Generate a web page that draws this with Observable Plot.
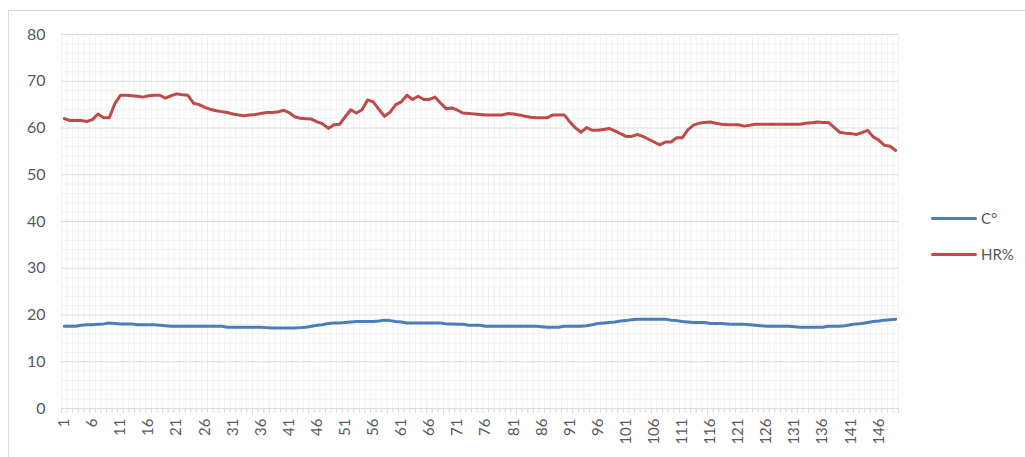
<!DOCTYPE html>
<html>
<head>
<meta charset="utf-8">
<script src="https://cdn.jsdelivr.net/npm/d3@7"></script>
<script src="https://cdn.jsdelivr.net/npm/@observablehq/plot@0.6"></script>
<style>
  html, body { margin: 0; padding: 0; background: #fff; }
  #wrap { position: relative; width: 1025px; height: 457px; overflow: hidden; font-family: Lato, "Open Sans", sans-serif; }
  #frame { position: absolute; left: 8px; top: 10px; width: 1030px; height: 470px; border: 1px solid #d9d9d9; box-sizing: border-box; }
  #chart { position: absolute; left: 0; top: 0; }
  .leg { position: absolute; left: 931px; display: flex; align-items: center; font-size: 15px; color: #595959; }
  .leg span.sw { display: inline-block; width: 46px; height: 3px; border-radius: 2px; margin-right: 4px; }
</style>
</head>
<body>
<div id="wrap">
  <div id="frame"></div>
  <div id="chart"></div>
</div>
<script>
// Temperature (°C), samples 1..149
const tempC = [
  17.6, 17.6, 17.6, 17.8, 17.9, 17.9, 18.0, 18.1, 18.3, 18.2,
  18.1, 18.1, 18.1, 17.9, 17.9, 17.9, 17.9, 17.8, 17.7, 17.6,
  17.6, 17.6, 17.6, 17.6, 17.6, 17.6, 17.6, 17.6, 17.6, 17.4,
  17.4, 17.4, 17.4, 17.4, 17.4, 17.4, 17.3, 17.2, 17.2, 17.2,
  17.2, 17.2, 17.3, 17.4, 17.6, 17.8, 17.9, 18.2, 18.3, 18.3,
  18.4, 18.5, 18.6, 18.6, 18.6, 18.6, 18.7, 18.9, 18.8, 18.6,
  18.5, 18.3, 18.3, 18.3, 18.3, 18.3, 18.3, 18.3, 18.1, 18.1,
  18.0, 18.0, 17.8, 17.8, 17.8, 17.6, 17.6, 17.6, 17.6, 17.6,
  17.6, 17.6, 17.6, 17.6, 17.6, 17.5, 17.4, 17.4, 17.4, 17.6,
  17.6, 17.6, 17.6, 17.7, 17.9, 18.2, 18.3, 18.4, 18.5, 18.7,
  18.8, 19.0, 19.1, 19.1, 19.1, 19.1, 19.1, 19.1, 18.9, 18.8,
  18.6, 18.5, 18.4, 18.4, 18.4, 18.2, 18.2, 18.2, 18.1, 18.0,
  18.0, 18.0, 17.9, 17.8, 17.7, 17.6, 17.6, 17.6, 17.6, 17.6,
  17.5, 17.4, 17.4, 17.4, 17.4, 17.4, 17.6, 17.6, 17.6, 17.7,
  17.9, 18.1, 18.2, 18.4, 18.6, 18.7, 18.9, 19.0, 19.1
];
// Relative humidity (%), samples 1..149
const humidity = [
  62.0, 61.6, 61.6, 61.6, 61.4, 61.8, 63.0, 62.2, 62.2, 65.2,
  67.0, 67.0, 66.9, 66.8, 66.6, 66.9, 67.0, 67.0, 66.4, 66.9,
  67.3, 67.1, 67.0, 65.3, 65.0, 64.4, 64.0, 63.7, 63.5, 63.3,
  63.0, 62.8, 62.6, 62.8, 62.9, 63.1, 63.3, 63.3, 63.4, 63.8,
  63.3, 62.4, 62.1, 62.0, 61.9, 61.3, 60.9, 59.9, 60.7, 60.8,
  62.4, 63.9, 63.2, 63.9, 66.0, 65.6, 64.0, 62.5, 63.4, 65.0,
  65.6, 67.0, 66.1, 66.8, 66.1, 66.1, 66.6, 65.3, 64.1, 64.3,
  63.8, 63.2, 63.1, 63.0, 62.9, 62.8, 62.8, 62.8, 62.8, 63.1,
  63.0, 62.8, 62.5, 62.3, 62.2, 62.2, 62.2, 62.8, 62.8, 62.8,
  61.3, 60.0, 59.1, 60.1, 59.5, 59.5, 59.7, 59.9, 59.4, 58.8,
  58.2, 58.2, 58.6, 58.2, 57.6, 57.0, 56.4, 57.0, 57.0, 57.9,
  57.9, 59.6, 60.6, 61.0, 61.2, 61.3, 61.0, 60.8, 60.7, 60.7,
  60.7, 60.4, 60.6, 60.8, 60.8, 60.8, 60.8, 60.8, 60.8, 60.8,
  60.8, 60.8, 61.0, 61.1, 61.3, 61.2, 61.2, 60.2, 59.1, 58.9,
  58.8, 58.6, 59.0, 59.5, 58.1, 57.4, 56.3, 56.1, 55.2
];
const seriesNames = ["C°", "HR%"];
const seriesColors = ["#4a7ebb", "#be4b48"];
const xTickLabels = d3.range(1, 150, 5);
const yTicks = d3.range(0, 81, 10);

const n = tempC.length;
const rows = [
  ...tempC.map((v, i) => ({x: i + 1, y: v, s: seriesNames[0]})),
  ...humidity.map((v, i) => ({x: i + 1, y: v, s: seriesNames[1]}))
];
const boundaries = d3.range(0.5, n + 1, 1);
const minorY = d3.range(0, 81, 2).filter(v => v % 10 !== 0);

const chart = Plot.plot({
  width: 1025,
  height: 457,
  marginLeft: 61,
  marginRight: 127,
  marginTop: 34,
  marginBottom: 49,
  style: {fontFamily: "Lato, 'Open Sans', sans-serif", background: "transparent"},
  x: {domain: [0.5, n + 0.5], label: null},
  y: {domain: [0, 80], label: null},
  color: {domain: seriesNames, range: seriesColors},
  marks: [
    Plot.ruleX(boundaries, {y1: 0, y2: 80, stroke: "#f1f1f1", strokeWidth: 1}),
    Plot.ruleY(minorY, {stroke: "#f1f1f1", strokeWidth: 1}),
    Plot.ruleY(yTicks, {stroke: "#dcdcdc", strokeWidth: 1}),
    Plot.axisX({ticks: boundaries, tickSize: 5, tickFormat: () => "", stroke: "#d9d9d9", label: null}),
    Plot.axisX({ticks: xTickLabels, tickSize: 0, tickRotate: -90, tickPadding: 10, fontSize: 15, fill: "#595959", label: null}),
    Plot.axisY({ticks: yTicks, tickSize: 0, tickPadding: 16, fontSize: 16, fill: "#595959", label: null}),
    Plot.line(rows, {x: "x", y: "y", z: "s", stroke: "s", strokeWidth: 3, strokeLinejoin: "round", strokeLinecap: "round"})
  ]
});
document.getElementById("chart").appendChild(chart);

const wrap = document.getElementById("wrap");
const legendY = [218, 254];
seriesNames.forEach((name, i) => {
  const d = document.createElement("div");
  d.className = "leg";
  d.style.top = (legendY[i] - 10) + "px";
  d.style.height = "20px";
  const sw = document.createElement("span");
  sw.className = "sw";
  sw.style.background = seriesColors[i];
  const t = document.createElement("span");
  t.textContent = name;
  d.appendChild(sw);
  d.appendChild(t);
  wrap.appendChild(d);
});
</script>
</body>
</html>
